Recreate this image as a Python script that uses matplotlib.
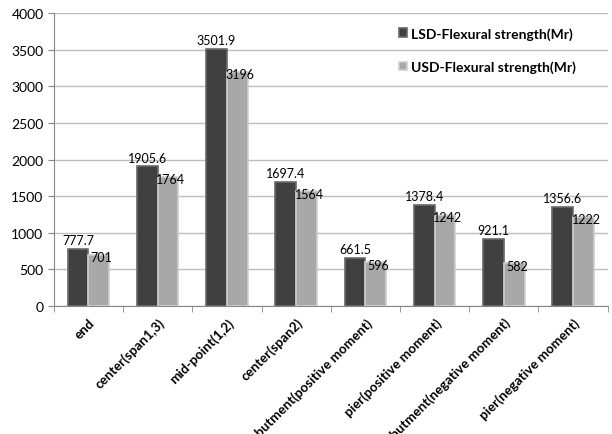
import numpy as np
import matplotlib.pyplot as plt

plt.rcParams["font.family"] = ["Lato", "DejaVu Sans"]

# flexural strength by section location
locations = ["end", "center(span1,3)", "mid-point(1,2)", "center(span2)",
             "abutment(positive moment)", "pier(positive moment)",
             "abutment(negative moment)", "pier(negative moment)"]
lsd = [777.7, 1905.6, 3501.9, 1697.4, 661.5, 1378.4, 921.1, 1356.6]
usd = [701, 1764, 3196, 1564, 596, 1242, 582, 1222]
lsd_labels = ["777.7", "1905.6", "3501.9", "1697.4", "661.5", "1378.4", "921.1", "1356.6"]
usd_labels = ["701", "1764", "3196", "1564", "596", "1242", "582", "1222"]

fig = plt.figure(figsize=(6.12, 4.35), dpi=100)
ax = fig.add_axes([0.088, 0.294, 0.905, 0.674])

x = np.arange(len(locations))
w = 0.3
ax.bar(x - w / 2, lsd, w, color="#404040", edgecolor="#6a6a6a", linewidth=1.2,
       label="LSD-Flexural strength(Mr)", zorder=3)
ax.bar(x + w / 2, usd, w, color="#a8a8a8", edgecolor="#cfcfcf", linewidth=1.2,
       label="USD-Flexural strength(Mr)", zorder=3)

for xi, v, t in zip(x, lsd, lsd_labels):
    ax.text(xi - w / 2, v + 40, t, ha="center", va="bottom", fontsize=9, zorder=4)
for xi, v, t in zip(x, usd, usd_labels):
    ax.text(xi + w / 2 + 0.04, v - 30, t, ha="center", va="center", fontsize=9, zorder=4)

ax.set_xlim(-0.5, len(locations) - 0.5)
ax.set_ylim(0, 4000)
ax.set_yticks(range(0, 4001, 500))
ax.yaxis.grid(True, color="#bdbdbd", linewidth=1)
ax.set_axisbelow(True)

ax.set_xticks(x)
ax.set_xticklabels(locations, rotation=45, ha="right", rotation_mode="anchor",
                   fontsize=9.6, fontweight="bold")
ax.set_xticks(np.arange(-0.5, len(locations)), minor=True)
ax.tick_params(axis="x", which="major", length=0, pad=7)
ax.tick_params(axis="x", which="minor", length=4, color="#888888")
ax.tick_params(axis="y", length=4, color="#888888", labelsize=10)

for s in ["top", "right"]:
    ax.spines[s].set_visible(False)
ax.spines["left"].set_color("#888888")
ax.spines["bottom"].set_color("#888888")

ax.legend(loc="upper left", bbox_to_anchor=(0.6, 0.995), frameon=False,
          prop={"weight": "bold", "size": 10}, handlelength=0.6, handleheight=0.6,
          handletextpad=0.3, labelspacing=1.5)

fig.savefig("out.png", dpi=100)
